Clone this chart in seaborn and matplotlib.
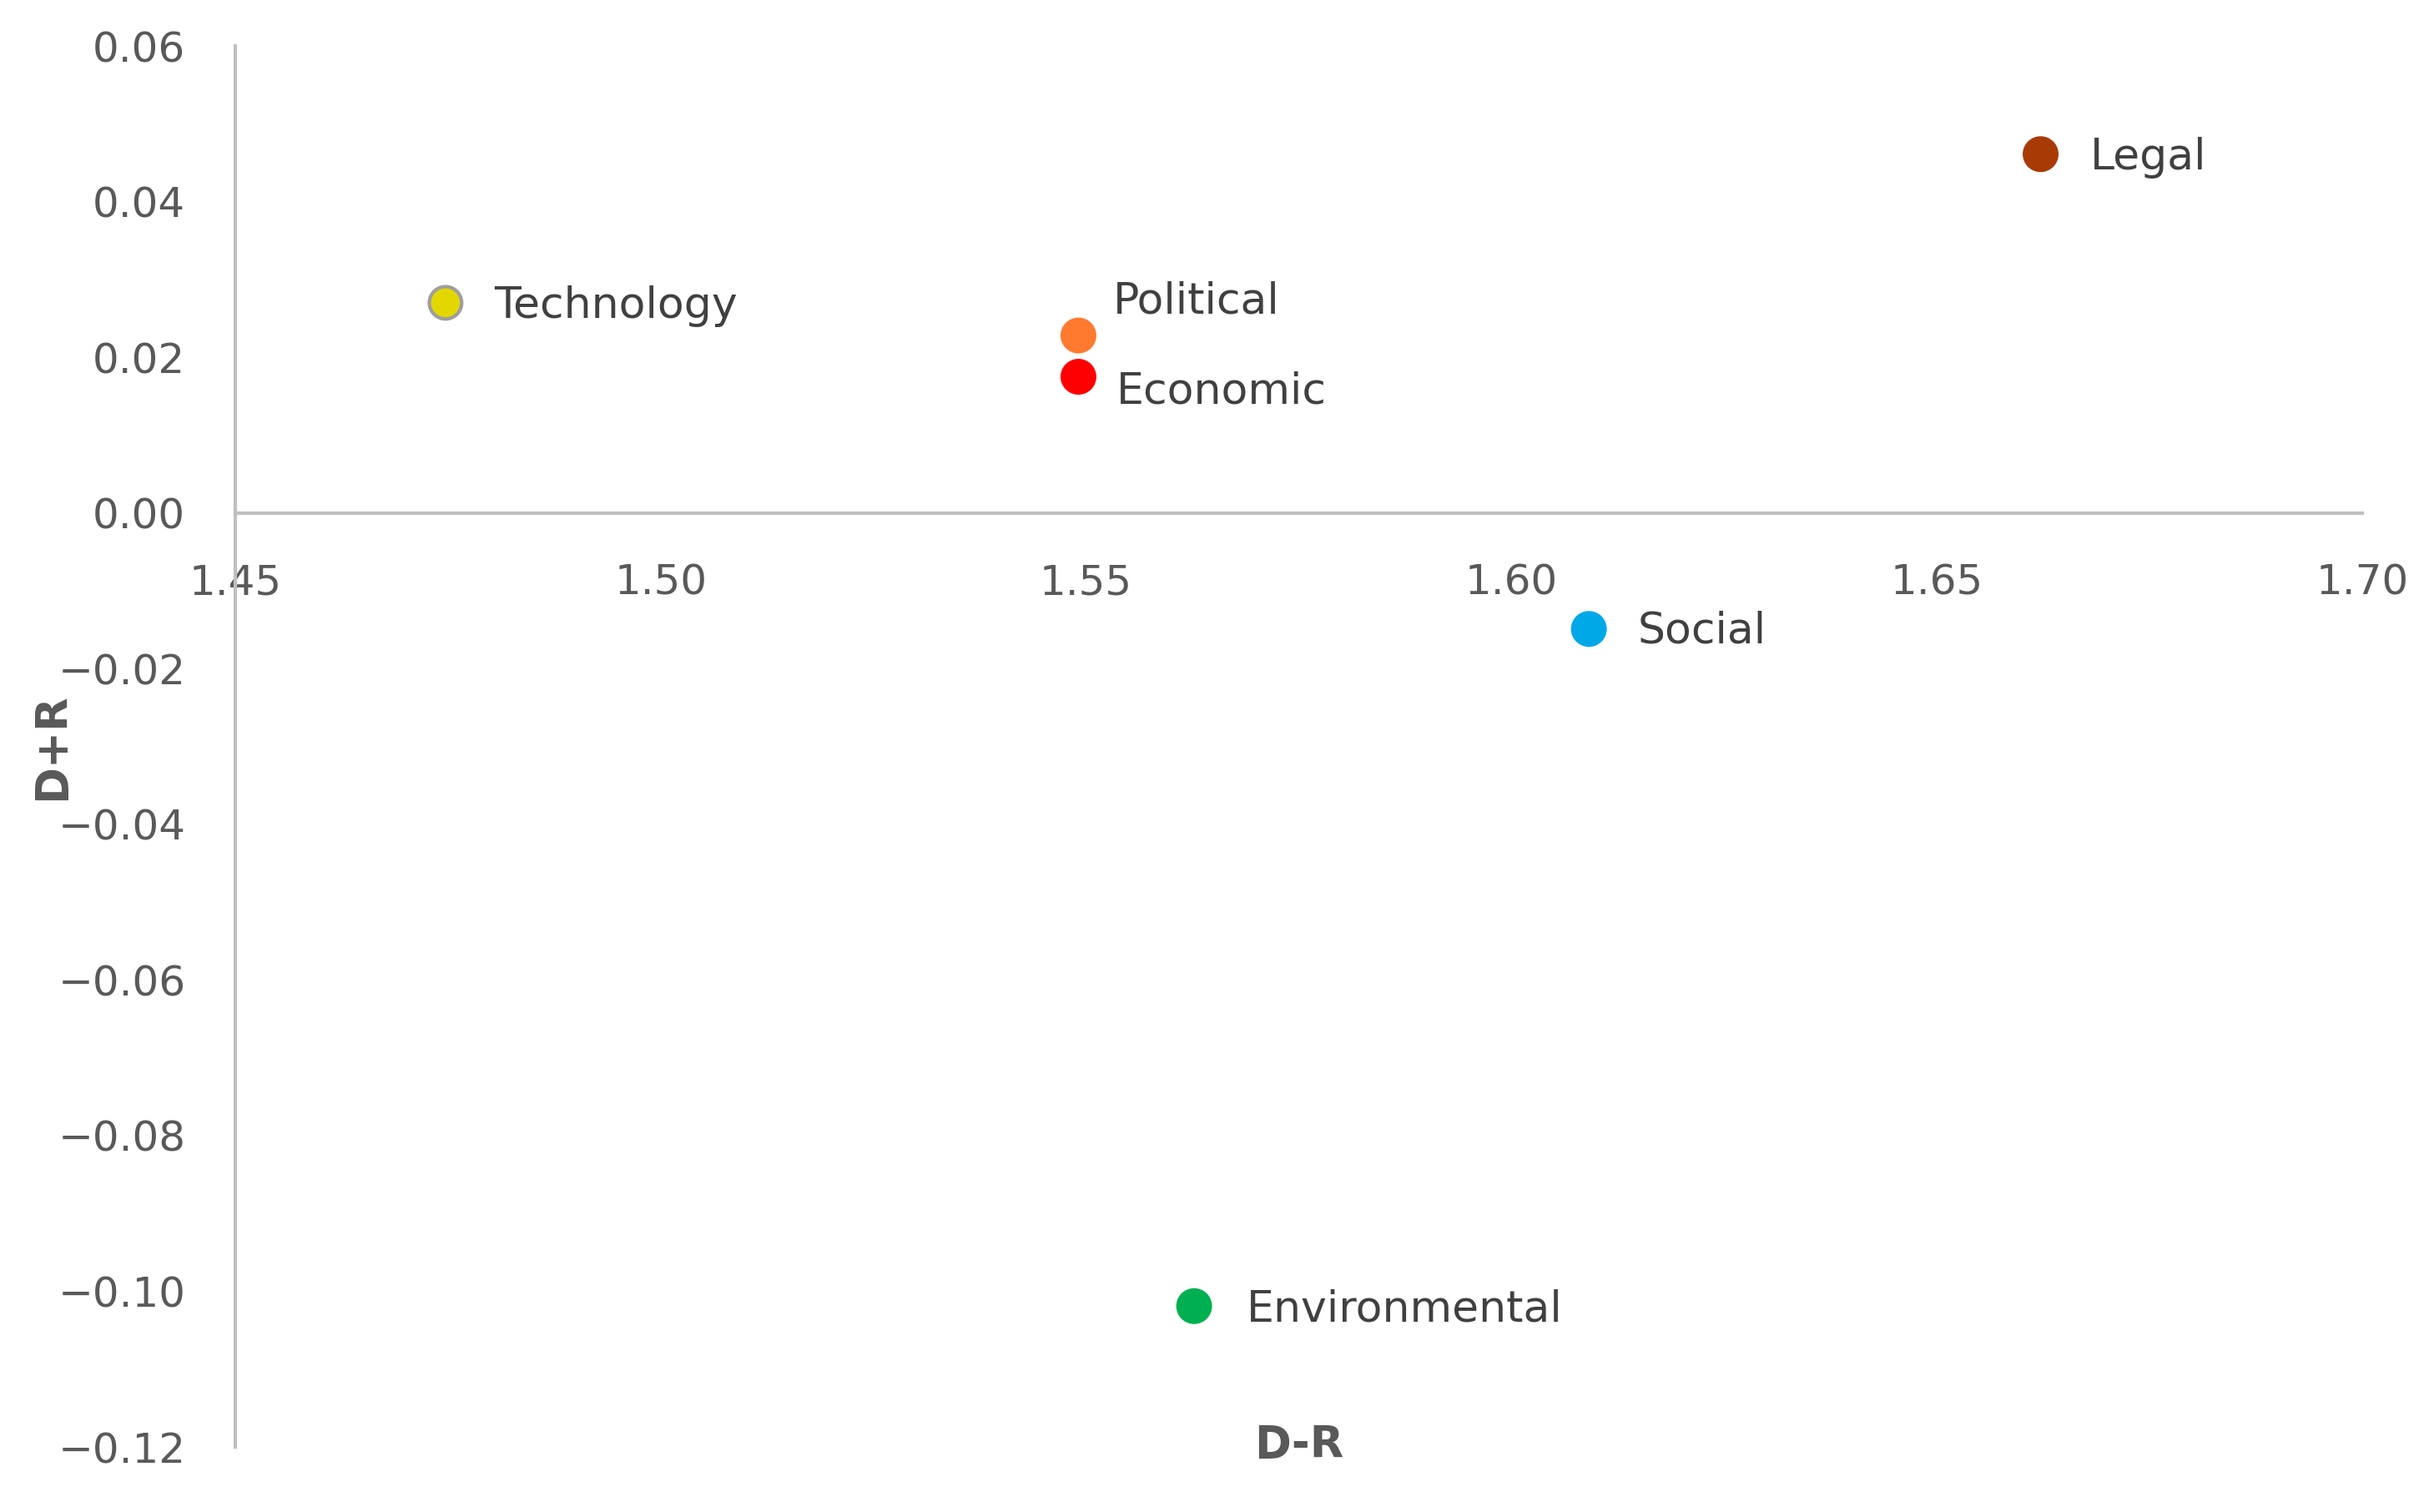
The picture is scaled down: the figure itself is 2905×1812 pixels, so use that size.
import pandas as pd
import matplotlib
matplotlib.use("Agg")
import matplotlib.pyplot as plt
from matplotlib.ticker import FuncFormatter, MultipleLocator
import seaborn as sns

# Datos
categories = ['Technology', 'Political', 'Economic', 'Legal', 'Social', 'Environmental']
d_minus_r = [1.4747, 1.5491, 1.5491, 1.6622, 1.6091, 1.5627]
d_plus_r = [0.0270, 0.0228, 0.0175, 0.0461, -0.0149, -0.1019]
colors = ['#E2D800', '#FF7A2E', '#FF0000', '#A83A05', '#00A8E8', '#00B050']
edges = ['#9E9E9E', '#FF7A2E', '#FF0000', '#A83A05', '#00A8E8', '#00B050']

df = pd.DataFrame({'cat': categories, 'DR': d_minus_r, 'DpR': d_plus_r})

sns.set_style('white')
plt.rcParams['font.family'] = ['DejaVu Sans']

fig = plt.figure(figsize=(29.05, 18.12), dpi=100)
ax = fig.add_axes([0.0971, 0.043, 0.8774, 0.9266])

sns.scatterplot(data=df, x='DR', y='DpR', hue='cat', palette=dict(zip(categories, colors)),
                s=780, legend=False, ax=ax, linewidth=3, zorder=3)
ax.collections[0].set_edgecolor(edges)

# Etiquetas de cada punto (desplazamiento en puntos)
offsets = {
    'Technology': (42, -3),
    'Political': (30, 29),
    'Economic': (33, -13),
    'Legal': (43, -3),
    'Social': (42, -2),
    'Environmental': (45, -3),
}
for c, x, y in zip(categories, d_minus_r, d_plus_r):
    dx, dy = offsets[c]
    ax.annotate(c, (x, y), xytext=(dx, dy), textcoords='offset points',
                ha='left', va='center', fontsize=37.5, color='#404040')

ax.set_xlim(1.45, 1.70)
ax.set_ylim(-0.12, 0.06)
ax.xaxis.set_major_locator(MultipleLocator(0.05))
ax.yaxis.set_major_locator(MultipleLocator(0.02))
ax.xaxis.set_major_formatter(FuncFormatter(lambda v, p: f"{v:.2f}"))
ax.yaxis.set_major_formatter(FuncFormatter(lambda v, p: f"{v:.2f}".replace('-', '\u2212')))

for s in ['top', 'right']:
    ax.spines[s].set_visible(False)
ax.spines['bottom'].set_position(('data', 0))
for s in ['left', 'bottom']:
    ax.spines[s].set_color('#BFBFBF')
    ax.spines[s].set_linewidth(3)

ax.tick_params(axis='x', length=0, pad=43, labelsize=36, labelcolor='#595959')
ax.tick_params(axis='y', length=0, pad=43, labelsize=36, labelcolor='#595959')

ax.set_xlabel('D-R', fontsize=38, fontweight='bold', color='#595959')
ax.set_ylabel('D+R', fontsize=38, fontweight='bold', color='#595959')
ax.xaxis.set_label_coords(0.5, 0.017)
ax.yaxis.set_label_coords(-0.076, 0.5)

fig.savefig('out.png', dpi=100, facecolor='white')
